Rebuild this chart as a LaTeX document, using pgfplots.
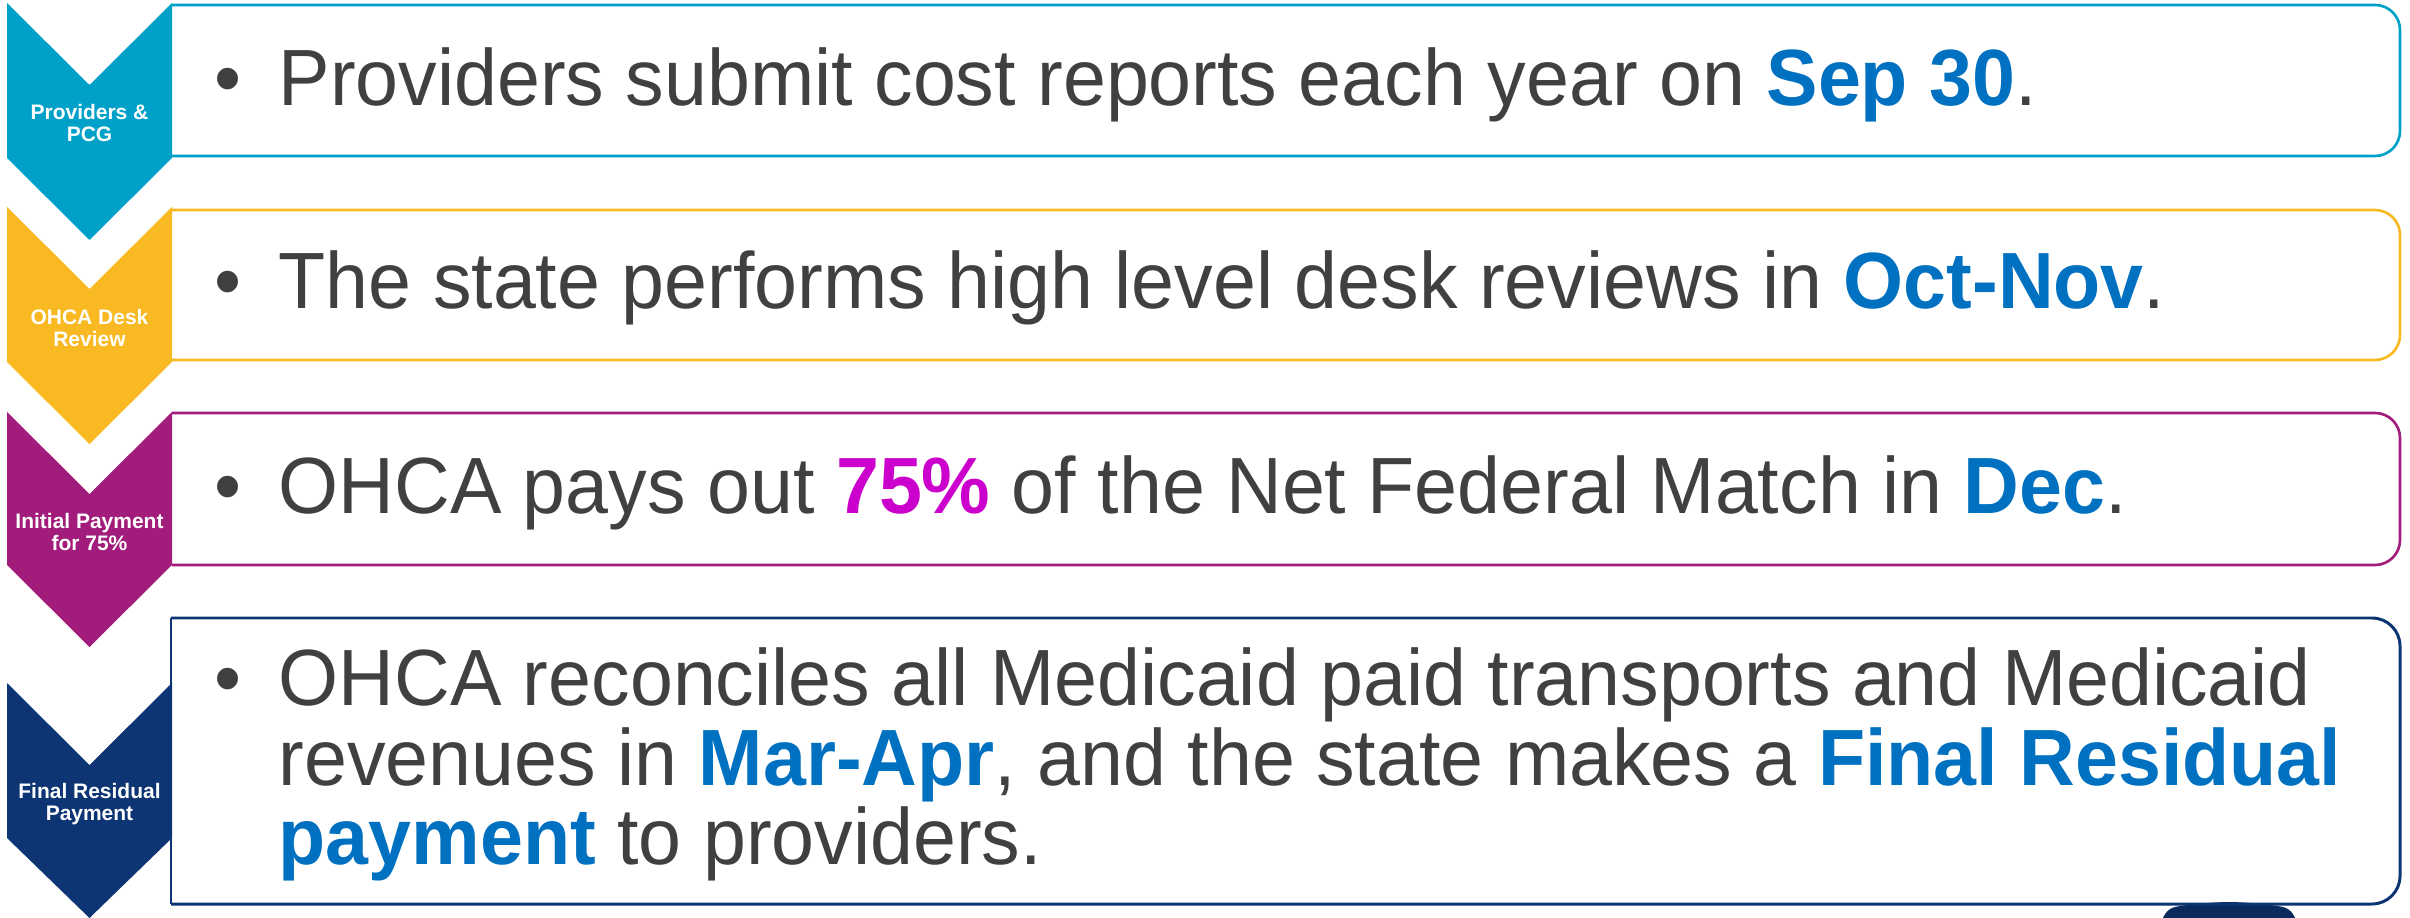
\documentclass[border=0pt]{standalone}
\usepackage{fontspec}
\setmainfont{Liberation Sans}
\newfontfamily\bodyfam[FakeStretch=0.967]{Liberation Sans}
\usepackage{xcolor}
\usepackage{pgfplots}
\pgfplotsset{compat=1.18}

\definecolor{cyanC}{RGB}{0,161,201}
\definecolor{yellowC}{RGB}{248,185,34}
\definecolor{purpleC}{RGB}{161,28,123}
\definecolor{navyC}{RGB}{13,53,116}
\definecolor{txtgray}{RGB}{64,64,64}
\definecolor{hiblue}{RGB}{0,112,192}
\definecolor{hmag}{RGB}{204,0,204}

\newcommand{\hl}[1]{\textcolor{hiblue}{\bfseries #1}}
\newcommand{\bodyfont}{\bodyfam\fontsize{22.7pt}{22.5pt}\selectfont}
\newcommand{\labfont}{\fontsize{5.97pt}{6.2pt}\selectfont\bfseries}

\begin{document}
\begin{tikzpicture}
\begin{axis}[
  width=241mm, height=91.8mm, scale only axis,
  xmin=0, xmax=2410, ymin=0, ymax=918, y dir=reverse,
  hide axis, clip=false, no markers,
  every axis plot/.append style={line join=round},
]
% frame so the page is the full picture
\addplot[draw=none] coordinates {(0,0)(2410,918)};

% partial button at the bottom right
\addplot[fill=navyC!80!black, draw=none, smooth]
  coordinates {(2163,918)(2175,907)(2229,902)(2283,907)(2295,918)} -- cycle;

% text boxes: open on the left, rounded on the right
\addplot[draw=cyanC, line width=0.75pt, rounded corners=2.5mm]
  coordinates {(172,5)(2400,5)(2400,156)(172,156)};
\addplot[draw=yellowC, line width=0.75pt, rounded corners=2.5mm]
  coordinates {(172,210)(2400,210)(2400,360)(172,360)};
\addplot[draw=purpleC, line width=0.75pt, rounded corners=2.5mm]
  coordinates {(172,413)(2400,413)(2400,565)(172,565)};
\addplot[draw=navyC, line width=0.85pt, rounded corners=2.8mm]
  coordinates {(171,618)(2400,618)(2400,904)(171,904)};
\addplot[draw=navyC, line width=0.85pt]
  coordinates {(171,618)(171,904)};

% chevrons
\addplot[fill=cyanC, draw=none]
  coordinates {(7,3)(89.5,85)(172,3)(172,158)(89.5,240)(7,158)} -- cycle;
\addplot[fill=yellowC, draw=none]
  coordinates {(7,207)(89.5,289)(172,207)(172,362)(89.5,444)(7,362)} -- cycle;
\addplot[fill=purpleC, draw=none]
  coordinates {(7,412)(89.5,494)(172,412)(172,565)(89.5,647)(7,565)} -- cycle;
\addplot[fill=navyC, draw=none]
  coordinates {(7,683)(89.5,765)(172,683)(172,838)(89.5,918)(7,838)} -- cycle;

% chevron labels
\node[align=center, text=white, font=\labfont, inner sep=0] at (89.5,123) {Providers \&\\PCG};
\node[align=center, text=white, font=\labfont, inner sep=0] at (89.5,328) {OHCA Desk\\Review};
\node[align=center, text=white, font=\labfont, inner sep=0] at (89.5,532) {Initial Payment\\for 75\%};
\node[align=center, text=white, font=\labfont, inner sep=0] at (89.5,804) {Final Residual\\Payment};

% bullets
\node[anchor=base, inner sep=0, text=txtgray, font=\bodyfont] at (228,106) {•};
\node[anchor=base, inner sep=0, text=txtgray, font=\bodyfont] at (228,309) {•};
\node[anchor=base, inner sep=0, text=txtgray, font=\bodyfont] at (228,513) {•};
\node[anchor=base, inner sep=0, text=txtgray, font=\bodyfont] at (228,705) {•};

% box texts
\node[anchor=base west, inner sep=0, text=txtgray, font=\bodyfont] at (278,106)
  {Providers submit cost reports each year on \hl{Sep 30}.};
\node[anchor=base west, inner sep=0, text=txtgray, font=\bodyfont] at (278,309)
  {The state performs high level desk reviews in \hl{Oct-Nov}.};
\node[anchor=base west, inner sep=0, text=txtgray, font=\bodyfont] at (278,513)
  {OHCA pays out \textcolor{hmag}{\bfseries 75\%} of the Net Federal Match in \hl{Dec}.};
\node[anchor=base west, inner sep=0, text=txtgray, font=\bodyfont] at (278,705)
  {OHCA reconciles all Medicaid paid transports and Medicaid};
\node[anchor=base west, inner sep=0, text=txtgray, font=\bodyfont] at (278,785)
  {revenues in \hl{Mar-Apr}, and the state makes a \hl{Final Residual}};
\node[anchor=base west, inner sep=0, text=txtgray, font=\bodyfont] at (278,864)
  {\hl{payment} to providers.};
\end{axis}
\end{tikzpicture}
\end{document}
